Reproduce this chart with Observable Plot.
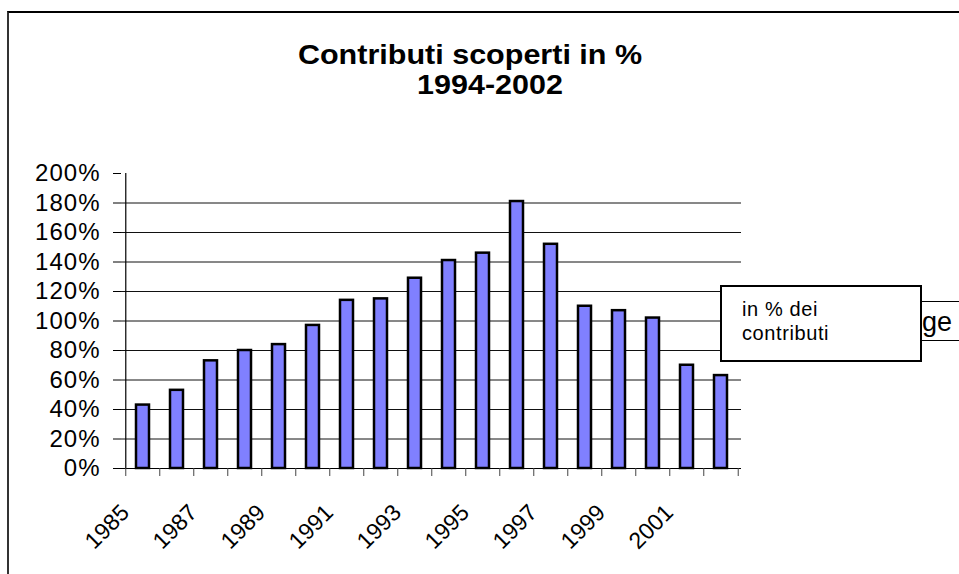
<!DOCTYPE html>
<html>
<head>
<meta charset="utf-8">
<script src="https://cdn.jsdelivr.net/npm/d3@7"></script>
<script src="https://cdn.jsdelivr.net/npm/@observablehq/plot@0.6"></script>
<style>
  html, body { margin: 0; padding: 0; background: #fff; }
  #wrap { position: relative; width: 959px; height: 574px; overflow: hidden; font-family: Arial, "Liberation Sans", sans-serif; color: #000; }
  #chart { position: absolute; left: 0; top: 0; }
  #border { position: absolute; left: 7px; top: 11px; width: 1000px; height: 700px; border-top: 2px solid #000; border-left: 2px solid #333; box-sizing: border-box; }
  .title { position: absolute; width: 600px; text-align: center; font-weight: bold; font-size: 28px; line-height: 30px; transform: scaleX(1.09); transform-origin: center; white-space: nowrap; }
  #behind { position: absolute; left: 745px; top: 301px; width: 300px; height: 40px; border-top: 1px solid #000; border-bottom: 1px solid #000; box-sizing: border-box; background: #fff; }
  #ge { position: absolute; left: 922px; top: 309px; font-size: 27px; line-height: 27px; white-space: nowrap; }
  #legend { position: absolute; left: 720px; top: 285px; width: 202px; height: 77px; border: 2px solid #000; box-sizing: border-box; background: #fff; padding: 10px 0 0 20px; font-size: 20px; line-height: 24px; letter-spacing: 0.6px; }
  g[aria-label^="y-axis"] text { letter-spacing: 1px; }
  g[aria-label="x-labels"] text { letter-spacing: 0.6px; }
</style>
</head>
<body>
<div id="wrap">
  <div id="border"></div>
  <div id="chart"></div>
  <div class="title" style="left:170px; top:40px;">Contributi scoperti in %</div>
  <div class="title" style="left:190px; top:70px;">1994-2002</div>
  <div id="behind"></div>
  <div id="ge">ge</div>
  <div id="legend">in % dei<br>contributi</div>
</div>
<script>
// Data
const years = [1985, 1986, 1987, 1988, 1989, 1990, 1991, 1992, 1993, 1994, 1995, 1996, 1997, 1998, 1999, 2000, 2001, 2002];
const values = [43, 53, 73, 80, 84, 97, 114, 115, 129, 141, 146, 181, 152, 110, 107, 102, 70, 63];
const yTicks = [0, 20, 40, 60, 80, 100, 120, 140, 160, 180, 200];
const gridValues = [20, 40, 60, 80, 100, 120, 140, 160, 180];
const labelYears = years.filter((d, i) => i % 2 === 0);

const data = years.map((year, i) => ({year, value: values[i]}));

const W = 959, H = 574, ML = 121, MR = 218, MT = 173, MB = 106;
const step = (W - ML - MR) / years.length;

const chart = Plot.plot({
  width: W,
  height: H,
  marginLeft: ML,
  marginRight: MR,
  marginTop: MT,
  marginBottom: MB,
  style: {fontFamily: "Arial, 'Liberation Sans', sans-serif", fontSize: "24px", color: "#000", background: "transparent", overflow: "visible"},
  x: {type: "band", domain: years, paddingInner: 0.62, paddingOuter: 0.31, axis: null},
  y: {domain: [0, 200], ticks: yTicks, tickFormat: d => d + "%", tickSize: 8, tickPadding: 13, label: null},
  marks: [
    Plot.ruleY(gridValues, {stroke: "#111", strokeWidth: 1}),
    Plot.ruleY([0], {stroke: "#000", strokeWidth: 1.2}),
    Plot.ruleX([years[0]], {x: d => d, dx: -step / 2, stroke: "#000", strokeWidth: 1.2}),
    Plot.barY(data, {x: "year", y: "value", fill: "#8080ff", stroke: "#000", strokeWidth: 2.5}),
    Plot.ruleX(years, {x: d => d, y1: 0, y2: 0, insetBottom: -8, dx: -step / 2, stroke: "#444"}),
    Plot.ruleX([years[years.length - 1]], {x: d => d, y1: 0, y2: 0, insetBottom: -8, dx: step / 2, stroke: "#444"}),
    Plot.text(labelYears, {x: d => d, frameAnchor: "bottom", rotate: -45, textAnchor: "end", lineAnchor: "top", dx: -24, dy: 34, fontSize: 23, fill: "#000", ariaLabel: "x-labels", text: d => String(d)})
  ]
});
document.getElementById("chart").appendChild(chart);
</script>
</body>
</html>
